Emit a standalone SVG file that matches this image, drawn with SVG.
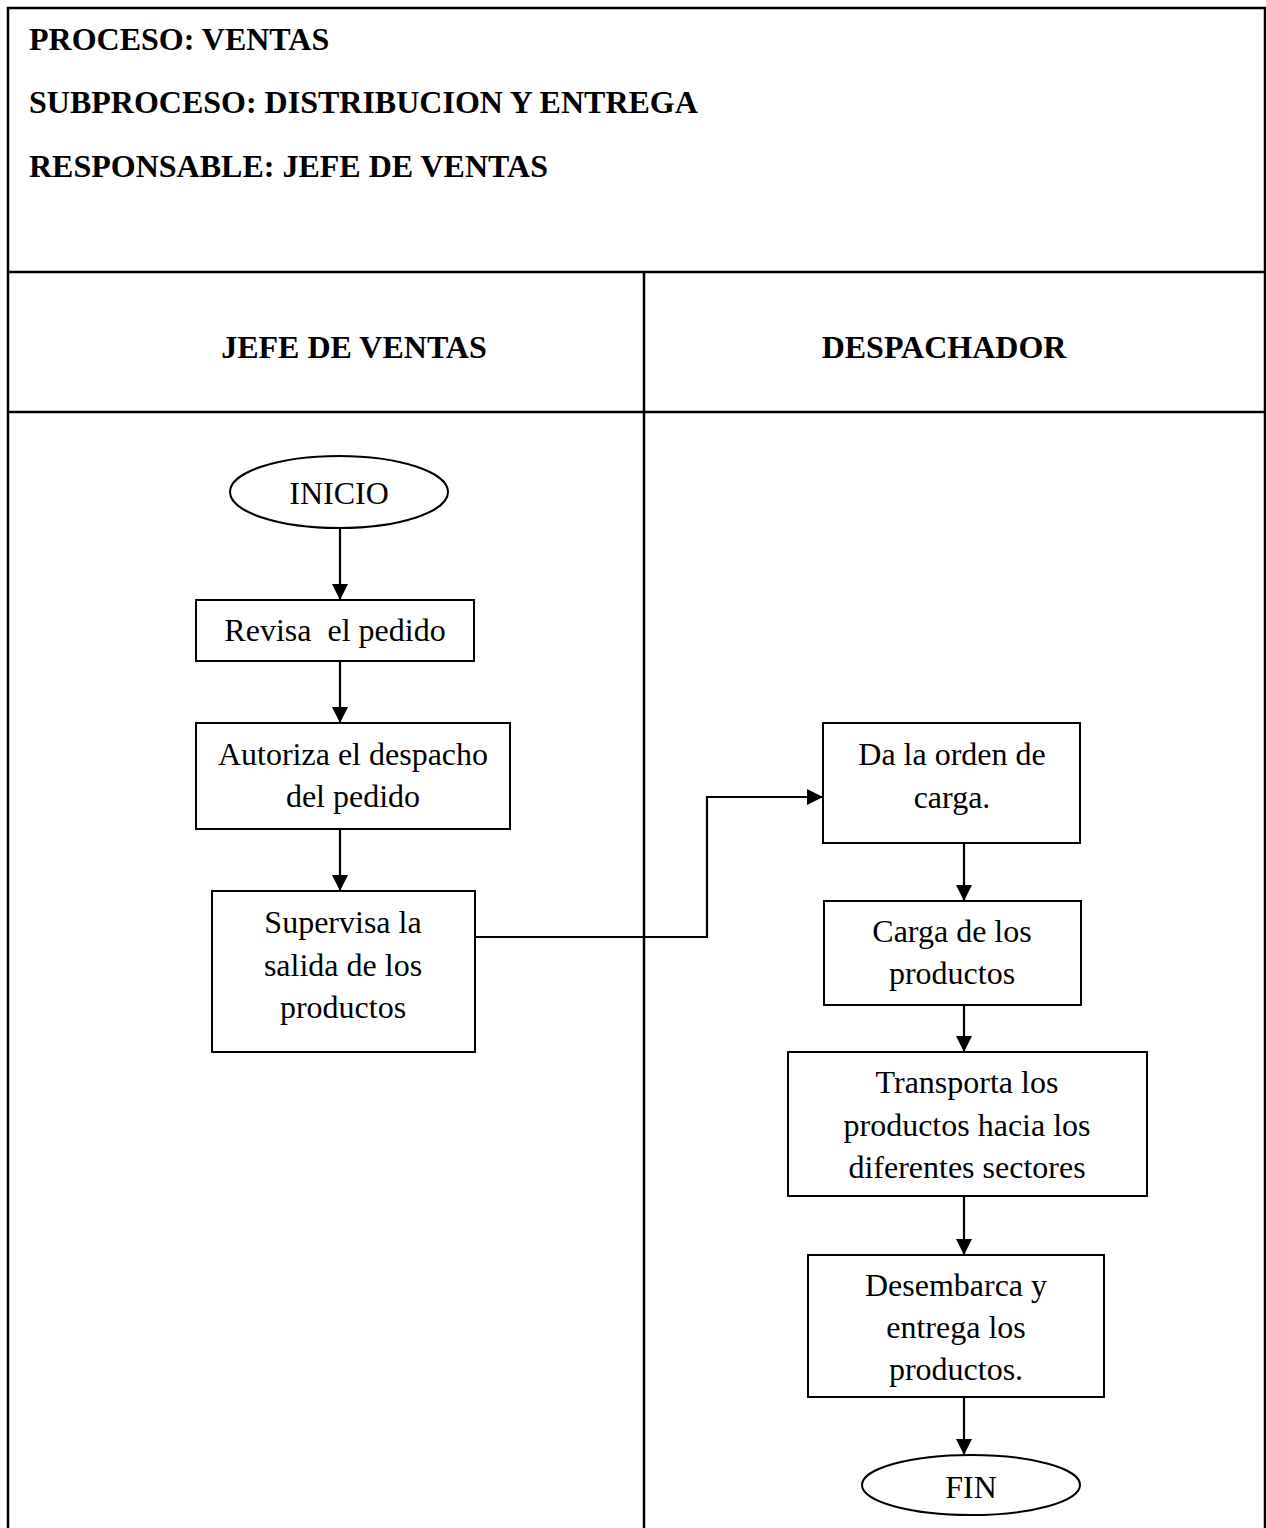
<svg xmlns="http://www.w3.org/2000/svg" width="1266" height="1528" viewBox="0 0 1266 1528">
  <style>
    text { font-family: "Liberation Serif", "Times New Roman", serif; fill: #000; }
    .title { font-size: 32px; font-weight: bold; }
    .lane { font-size: 32px; font-weight: bold; text-anchor: middle; }
    .label { font-size: 32px; text-anchor: middle; }
    .frame { fill: none; stroke: #000; stroke-width: 2.5; }
    .shape { fill: #fff; stroke: #000; stroke-width: 2; }
    .edge { fill: none; stroke: #000; stroke-width: 2.2; }
  </style>
  <defs>
    <marker id="arrow" markerUnits="userSpaceOnUse" markerWidth="18" markerHeight="18" refX="16" refY="8" orient="auto">
      <path d="M0,0 L16,8 L0,16 Z" fill="#000"/>
    </marker>
  </defs>

  <rect width="1266" height="1528" fill="#fff"/>

  <!-- table frame -->
  <g id="frame">
    <path class="frame" d="M8,1530 V8 H1265 V1530"/>
    <line class="frame" x1="8" y1="272" x2="1265" y2="272"/>
    <line class="frame" x1="8" y1="412" x2="1265" y2="412"/>
    <line class="frame" x1="644" y1="272" x2="644" y2="1530"/>
  </g>

  <!-- heading block -->
  <g id="heading">
    <text class="title" x="29" y="50">PROCESO: VENTAS</text>
    <text class="title" x="29" y="113">SUBPROCESO: DISTRIBUCION Y ENTREGA</text>
    <text class="title" x="29" y="177">RESPONSABLE: JEFE DE VENTAS</text>
  </g>

  <!-- swimlane titles -->
  <g id="lane-jefe">
    <text class="lane" x="354" y="358">JEFE DE VENTAS</text>
  </g>
  <g id="lane-despachador">
    <text class="lane" x="944" y="358">DESPACHADOR</text>
  </g>

  <!-- connectors -->
  <g id="connectors">
    <line class="edge" x1="340" y1="528" x2="340" y2="600" marker-end="url(#arrow)"/>
    <line class="edge" x1="340" y1="661" x2="340" y2="723" marker-end="url(#arrow)"/>
    <line class="edge" x1="340" y1="829" x2="340" y2="891" marker-end="url(#arrow)"/>
    <path class="edge" d="M475,937 H707 V797 H823" marker-end="url(#arrow)"/>
    <line class="edge" x1="964" y1="843" x2="964" y2="901" marker-end="url(#arrow)"/>
    <line class="edge" x1="964" y1="1005" x2="964" y2="1052" marker-end="url(#arrow)"/>
    <line class="edge" x1="964" y1="1196" x2="964" y2="1255" marker-end="url(#arrow)"/>
    <line class="edge" x1="964" y1="1397" x2="964" y2="1455" marker-end="url(#arrow)"/>
  </g>

  <!-- nodes -->
  <g id="inicio">
    <ellipse class="shape" cx="339" cy="492" rx="109" ry="36"/>
    <text class="label" x="339" y="504">INICIO</text>
  </g>

  <g id="revisa">
    <rect class="shape" x="196" y="600" width="278" height="61"/>
    <text class="label" x="335" y="641" style="white-space:pre">Revisa  el pedido</text>
  </g>

  <g id="autoriza">
    <rect class="shape" x="196" y="723" width="314" height="106"/>
    <text class="label" x="353" y="765">Autoriza el despacho</text>
    <text class="label" x="353" y="807">del pedido</text>
  </g>

  <g id="supervisa">
    <rect class="shape" x="212" y="891" width="263" height="161"/>
    <text class="label" x="343" y="933">Supervisa la</text>
    <text class="label" x="343" y="976">salida de los</text>
    <text class="label" x="343" y="1018">productos</text>
  </g>

  <g id="orden-carga">
    <rect class="shape" x="823" y="723" width="257" height="120"/>
    <text class="label" x="952" y="765">Da la orden de</text>
    <text class="label" x="952" y="808">carga.</text>
  </g>

  <g id="carga">
    <rect class="shape" x="824" y="901" width="257" height="104"/>
    <text class="label" x="952" y="942">Carga de los</text>
    <text class="label" x="952" y="984">productos</text>
  </g>

  <g id="transporta">
    <rect class="shape" x="788" y="1052" width="359" height="144"/>
    <text class="label" x="967" y="1093">Transporta los</text>
    <text class="label" x="967" y="1136">productos hacia los</text>
    <text class="label" x="967" y="1178">diferentes sectores</text>
  </g>

  <g id="desembarca">
    <rect class="shape" x="808" y="1255" width="296" height="142"/>
    <text class="label" x="956" y="1296">Desembarca y</text>
    <text class="label" x="956" y="1338">entrega los</text>
    <text class="label" x="956" y="1380">productos.</text>
  </g>

  <g id="fin">
    <ellipse class="shape" cx="971" cy="1485" rx="109" ry="30"/>
    <text class="label" x="971" y="1498">FIN</text>
  </g>
</svg>
